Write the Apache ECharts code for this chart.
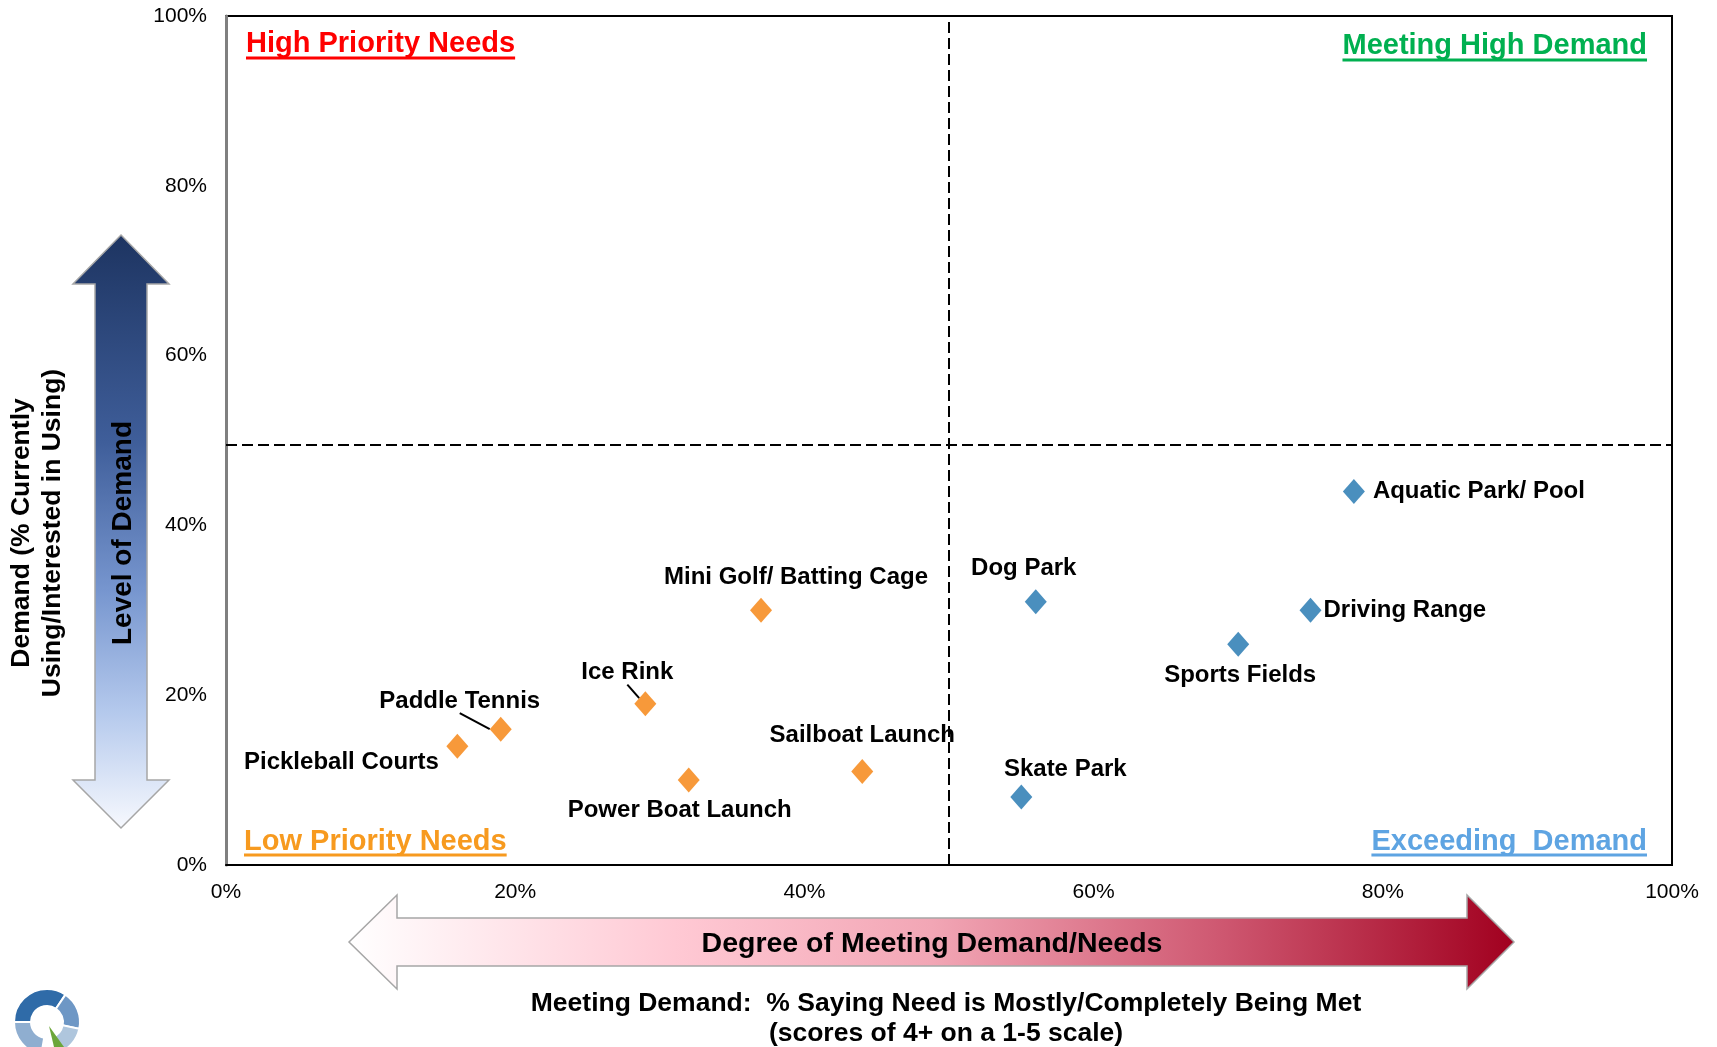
<!DOCTYPE html>
<html>
<head>
<meta charset="utf-8">
<script src="https://cdn.jsdelivr.net/npm/echarts@6/dist/echarts.min.js"></script>
<style>
  html, body { margin: 0; padding: 0; background: #fff; }
  #chart { width: 1717px; height: 1047px; }
</style>
</head>
<body>
<div id="chart"></div>
<script>
// ---------- DATA ----------
const lowPriorityNames = ['Pickleball Courts', 'Paddle Tennis', 'Ice Rink', 'Mini Golf/ Batting Cage', 'Power Boat Launch', 'Sailboat Launch'];
const lowPriorityMet = [16, 19, 29, 37, 32, 44];      // % saying need is mostly/completely met
const lowPriorityDemand = [14, 16, 19, 30, 10, 11];   // % currently using / interested

const exceedingNames = ['Dog Park', 'Skate Park', 'Sports Fields', 'Driving Range', 'Aquatic Park/ Pool'];
const exceedingMet = [56, 55, 70, 75, 78];
const exceedingDemand = [31, 8, 26, 30, 44];

const xTickValues = [0, 20, 40, 60, 80, 100];
const xTickLabels = ['0%', '20%', '40%', '60%', '80%', '100%'];
const yTickValues = [0, 20, 40, 60, 80, 100];
const yTickLabels = ['0%', '20%', '40%', '60%', '80%', '100%'];

const dividerX = 50;
const dividerY = 49.5;

// ---------- LABEL PLACEMENT (style, px relative to marker centre) ----------
const labelPlacement = {
  'Pickleball Courts':       { dx: -116, dy: 16,  align: 'center' },
  'Paddle Tennis':           { dx: -41,  dy: -28, align: 'center', leader: true },
  'Ice Rink':                { dx: -18,  dy: -31, align: 'center', leader: true },
  'Mini Golf/ Batting Cage': { dx: 35,   dy: -33, align: 'center' },
  'Power Boat Launch':       { dx: -9,   dy: 30,  align: 'center' },
  'Sailboat Launch':         { dx: 0,    dy: -36, align: 'center' },
  'Dog Park':                { dx: -12,  dy: -33, align: 'center' },
  'Skate Park':              { dx: 44,   dy: -28, align: 'center' },
  'Sports Fields':           { dx: 2,    dy: 31,  align: 'center' },
  'Driving Range':           { dx: 13,   dy: 0,   align: 'left' },
  'Aquatic Park/ Pool':      { dx: 19,   dy: 0,   align: 'left' }
};

const FONT = '"Liberation Sans", Arial, Helvetica, sans-serif';

function buildPoints(names, xs, ys) {
  return names.map((n, i) => {
    const item = { name: n, value: [xs[i], ys[i]] };
    if (labelPlacement[n] && labelPlacement[n].leader) {
      item.labelLine = { show: true, lineStyle: { color: '#000', width: 2 } };
    }
    return item;
  });
}

function labelLayoutFn(params) {
  const p = labelPlacement[params.text] || { dx: 0, dy: 0, align: 'center' };
  const r = params.rect;
  const cx = r.x + r.width / 2;
  const cy = r.y + r.height / 2;
  const lx = cx + p.dx;
  const ly = cy + p.dy;
  const out = { x: lx, y: ly, align: p.align, verticalAlign: 'middle' };
  if (p.leader) {
    out.labelLinePoints = [[lx, ly + 18], [(lx + cx) / 2, (ly + 18 + cy) / 2], [cx, cy]];
  }
  return out;
}

function textWidth(str, font) {
  const c = document.createElement('canvas').getContext('2d');
  c.font = font;
  return c.measureText(str).width;
}

// ---------- DECORATION ----------
const qFont = 'bold 29px ' + FONT;
function quadTitle(text, color, x, y, align, underlineY) {
  const w = textWidth(text, qFont);
  const x0 = align === 'left' ? x : x - w;
  return [
    { type: 'text', x: x, y: y, z: 20,
      style: { text: text, font: qFont, fill: color, align: align, textAlign: align, verticalAlign: 'middle', textVerticalAlign: 'middle' } },
    { type: 'line', z: 20, shape: { x1: x0, y1: underlineY, x2: x0 + w, y2: underlineY },
      style: { stroke: color, lineWidth: 3 } }
  ];
}

function txt(text, x, y, font, rotation, lineHeight) {
  const style = { text: text, font: font, fill: '#000', align: 'center', textAlign: 'center', verticalAlign: 'middle', textVerticalAlign: 'middle' };
  if (lineHeight) style.lineHeight = lineHeight;
  return { type: 'text', x: x, y: y, rotation: rotation || 0, z: 30, style: style };
}

const vArrow = {
  type: 'polygon', z: 5,
  shape: { points: [[121, 235], [169, 284], [147, 284], [147, 780], [169, 780], [121, 828], [73, 780], [95, 780], [95, 284], [73, 284]] },
  style: {
    fill: new echarts.graphic.LinearGradient(0, 0, 0, 1, [
      { offset: 0, color: '#1D3461' },
      { offset: 0.35, color: '#3F5E9A' },
      { offset: 0.6, color: '#7796CF' },
      { offset: 0.8, color: '#B3C8EC' },
      { offset: 1, color: '#F7F9FE' }
    ]),
    stroke: '#A6A6A6', lineWidth: 1.5
  }
};

const hArrow = {
  type: 'polygon', z: 5,
  shape: { points: [[349, 942], [397, 895], [397, 918], [1467, 918], [1467, 895], [1514, 942], [1467, 989], [1467, 966], [397, 966], [397, 989]] },
  style: {
    fill: new echarts.graphic.LinearGradient(0, 0, 1, 0, [
      { offset: 0, color: '#FFFFFF' },
      { offset: 0.28, color: '#FFC9D4' },
      { offset: 0.5, color: '#F2A6B5' },
      { offset: 0.75, color: '#CE5770' },
      { offset: 1, color: '#A1001F' }
    ]),
    stroke: '#A6A6A6', lineWidth: 1.5
  }
};

const deg = Math.PI / 180;
function seg(a0, a1, color) {
  return { type: 'sector', z: 5,
    shape: { cx: 47, cy: 1022, r: 33, r0: 16, startAngle: a0 * deg, endAngle: a1 * deg, clockwise: true },
    style: { fill: color, stroke: '#fff', lineWidth: 2 } };
}
const logo = [
  seg(-180, -56, '#2F6BA8'),
  seg(-56, 12, '#6E97C5'),
  seg(12, 70, '#AFC6DD'),
  seg(100, 180, '#8FAED0'),
  { type: 'polygon', z: 6, shape: { points: [[49, 1026], [54, 1047], [64, 1047]] }, style: { fill: '#6CA63A' } }
];

const graphics = [].concat(
  [vArrow, hArrow],
  logo,
  quadTitle('High Priority Needs', '#FF0000', 246, 44, 'left', 58),
  quadTitle('Meeting High Demand', '#00B050', 1647, 46, 'right', 60),
  quadTitle('Low Priority Needs', '#F79A1F', 244, 842, 'left', 855),
  quadTitle('Exceeding  Demand', '#5EA4E2', 1647, 842, 'right', 855),
  [
    txt('Demand (% Currently\nUsing/Interested in Using)', 37, 533, 'bold 26.5px ' + FONT, Math.PI / 2, 31),
    txt('Level of Demand', 123, 533, 'bold 28px ' + FONT, Math.PI / 2),
    txt('Degree of Meeting Demand/Needs', 932, 944, 'bold 28.5px ' + FONT, 0),
    txt('Meeting Demand:  % Saying Need is Mostly/Completely Being Met', 946, 1004, 'bold 26.5px ' + FONT, 0),
    txt('(scores of 4+ on a 1-5 scale)', 946, 1034, 'bold 26.5px ' + FONT, 0)
  ]
);

const labelCommon = {
  show: true,
  position: 'inside',
  formatter: '{b}',
  color: '#000',
  fontFamily: FONT,
  fontWeight: 'bold',
  fontSize: 24
};

const chart = echarts.init(document.getElementById('chart'), null, { renderer: 'canvas' });
chart.setOption({
  animation: false,
  backgroundColor: '#fff',
  grid: {
    left: 226, top: 16, right: 45, bottom: 182,
    show: true, borderColor: '#000', borderWidth: 2, backgroundColor: 'transparent',
    containLabel: false, outerBoundsMode: 'none'
  },
  xAxis: {
    type: 'value', min: 0, max: 100, interval: 20,
    axisLine: { show: true, lineStyle: { color: '#000', width: 2 } },
    axisTick: { show: false },
    splitLine: { show: false },
    axisLabel: {
      margin: 17, fontSize: 21, color: '#000', fontFamily: FONT,
      showMinLabel: true, showMaxLabel: true,
      formatter: v => xTickLabels[xTickValues.indexOf(v)] || ''
    }
  },
  yAxis: {
    type: 'value', min: 0, max: 100, interval: 20,
    axisLine: { show: true, lineStyle: { color: '#808080', width: 3 } },
    axisTick: { show: false },
    splitLine: { show: false },
    axisLabel: {
      margin: 19, fontSize: 21, color: '#000', fontFamily: FONT,
      showMinLabel: true, showMaxLabel: true,
      formatter: v => yTickLabels[yTickValues.indexOf(v)] || ''
    }
  },
  graphic: { elements: graphics },
  series: [
    {
      name: 'Low Priority Needs',
      type: 'scatter',
      symbol: 'diamond',
      symbolSize: [22, 25],
      itemStyle: { color: '#F7993A', opacity: 1 },
      label: labelCommon,
      labelLayout: labelLayoutFn,
      labelLine: { show: false, lineStyle: { color: '#000', width: 2 } },
      data: buildPoints(lowPriorityNames, lowPriorityMet, lowPriorityDemand),
      markLine: {
        silent: true,
        symbol: ['none', 'none'],
        label: { show: false },
        lineStyle: { color: '#000', type: [11, 5], width: 2 },
        data: [{ xAxis: dividerX }, { yAxis: dividerY }]
      },
      z: 10
    },
    {
      name: 'Exceeding Demand',
      type: 'scatter',
      symbol: 'diamond',
      symbolSize: [22, 25],
      itemStyle: { color: '#4A8FBE', opacity: 1 },
      label: labelCommon,
      labelLayout: labelLayoutFn,
      data: buildPoints(exceedingNames, exceedingMet, exceedingDemand),
      z: 10
    }
  ]
});
</script>
</body>
</html>
